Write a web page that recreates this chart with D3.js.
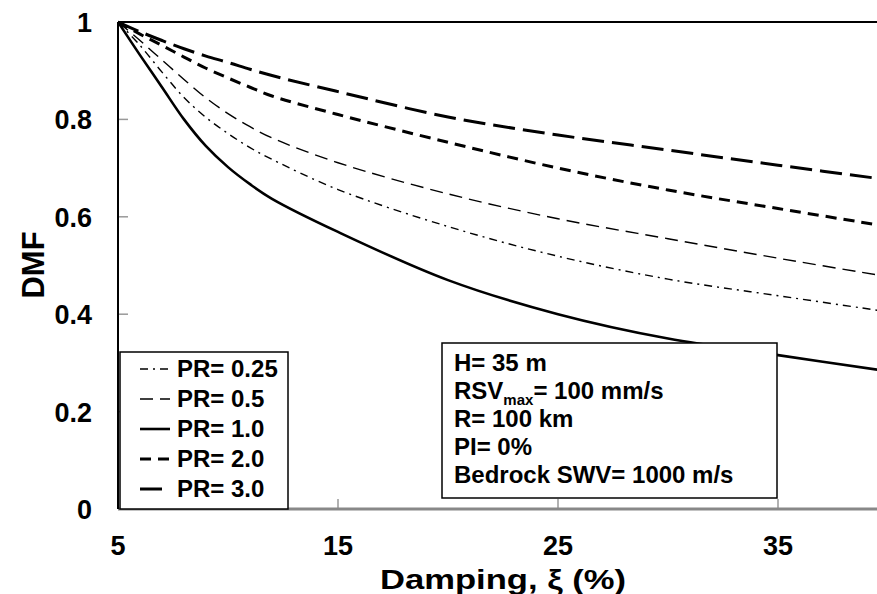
<!DOCTYPE html>
<head>
    <meta charset="utf-8">
    <title>DMF vs Damping</title>
    <style>
    body {
        margin: 0;
        background-color: white;
        font-family: "Liberation Sans", Arial, sans-serif;
    }

    svg text {
        font-weight: bold;
        fill: black;
    }

    .curve {
        fill: none;
        stroke: black;
    }

    .box {
        fill: white;
        stroke: black;
        stroke-width: 1.5px;
    }
    </style>
</head>

<body>
    <svg id="chart" width="877" height="594"></svg>
    <script src="https://cdn.jsdelivr.net/npm/d3@7"></script>
    <script>
    // damping values (%)
    var damping = [5, 6, 7, 8, 9, 10, 11, 12, 15, 20, 25, 30, 35, 40];

    var pr025 = [1, 0.952, 0.897, 0.845, 0.804, 0.771, 0.742, 0.718, 0.656, 0.58, 0.519, 0.472, 0.438, 0.405];
    var pr05 = [1, 0.962, 0.922, 0.882, 0.844, 0.812, 0.785, 0.762, 0.711, 0.647, 0.596, 0.555, 0.515, 0.477];
    var pr10 = [1, 0.932, 0.866, 0.80, 0.745, 0.702, 0.667, 0.637, 0.569, 0.47, 0.40, 0.35, 0.316, 0.283];
    var pr20 = [1, 0.975, 0.952, 0.928, 0.905, 0.885, 0.866, 0.848, 0.81, 0.753, 0.70, 0.655, 0.617, 0.58];
    var pr30 = [1, 0.98, 0.962, 0.945, 0.93, 0.917, 0.903, 0.89, 0.857, 0.805, 0.768, 0.737, 0.706, 0.676];

    var seriesNames = ["PR= 0.25", "PR= 0.5", "PR= 1.0", "PR= 2.0", "PR= 3.0"];
    var xTicks = [5, 15, 25, 35];
    var yTicks = [0, 0.2, 0.4, 0.6, 0.8, 1];
    var notes = ["H= 35 m", "RSV|max|= 100 mm/s", "R= 100 km", "PI= 0%", "Bedrock SWV= 1000 m/s"];

    var styles = [
        { width: 1.4, dash: "8,5,2,5" },
        { width: 1.4, dash: "13,7" },
        { width: 2.6, dash: null },
        { width: 3, dash: "11,7" },
        { width: 3, dash: "22,8" }
    ];

    var allValues = [pr025, pr05, pr10, pr20, pr30];
    var series = seriesNames.map(function(name, i) {
        return {
            name: name,
            style: styles[i],
            values: damping.map(function(d, j) { return { x: d, y: allValues[i][j] }; })
        };
    });

    var svg = d3.select("#chart");

    // plot area (x = 40 falls just past the right edge, as in the original)
    var mLeft = 118, mTop = 22, mBottom = 509;
    var x = d3.scaleLinear().domain([5, 40]).range([mLeft, 888]);
    var y = d3.scaleLinear().domain([0, 1]).range([mBottom, mTop]);

    svg.append("clipPath")
        .attr("id", "clip")
        .append("rect")
        .attr("x", mLeft)
        .attr("y", mTop - 5)
        .attr("width", 877 - mLeft)
        .attr("height", mBottom - mTop + 10);

    // inner gray ticks
    svg.selectAll(".ytick")
        .data(yTicks.slice(1, -1))
        .enter().append("line")
        .attr("x1", mLeft)
        .attr("x2", mLeft + 10)
        .attr("y1", function(d) { return y(d); })
        .attr("y2", function(d) { return y(d); })
        .attr("stroke", "#999")
        .attr("stroke-width", 1.5);

    svg.selectAll(".xtick")
        .data(xTicks.slice(1))
        .enter().append("line")
        .attr("x1", function(d) { return x(d); })
        .attr("x2", function(d) { return x(d); })
        .attr("y1", mBottom)
        .attr("y2", mBottom - 10)
        .attr("stroke", "#999")
        .attr("stroke-width", 1.5);

    // frame
    svg.append("line")
        .attr("x1", mLeft).attr("x2", 877)
        .attr("y1", mTop).attr("y2", mTop)
        .attr("stroke", "black").attr("stroke-width", 2);
    svg.append("line")
        .attr("x1", mLeft).attr("x2", 877)
        .attr("y1", mBottom).attr("y2", mBottom)
        .attr("stroke", "#888").attr("stroke-width", 3);
    svg.append("line")
        .attr("x1", mLeft).attr("x2", mLeft)
        .attr("y1", mTop).attr("y2", mBottom)
        .attr("stroke", "black").attr("stroke-width", 2);

    var line = d3.line()
        .x(function(d) { return x(d.x); })
        .y(function(d) { return y(d.y); })
        .curve(d3.curveCatmullRom.alpha(0.5));

    svg.append("g")
        .attr("clip-path", "url(#clip)")
        .selectAll("path")
        .data(series)
        .enter().append("path")
        .attr("class", "curve")
        .attr("d", function(d) { return line(d.values); })
        .attr("stroke-width", function(d) { return d.style.width; })
        .attr("stroke-dasharray", function(d) { return d.style.dash; });

    // tick labels
    svg.selectAll(".ylabel")
        .data(yTicks)
        .enter().append("text")
        .attr("x", 92)
        .attr("y", function(d) { return y(d) + 10; })
        .attr("text-anchor", "end")
        .style("font-size", "27px")
        .text(function(d) { return d === 0 || d === 1 ? d : d3.format(".1f")(d); });

    svg.selectAll(".xlabel")
        .data(xTicks)
        .enter().append("text")
        .attr("x", function(d) { return x(d); })
        .attr("y", 555)
        .attr("text-anchor", "middle")
        .style("font-size", "27px")
        .text(function(d) { return d; });

    svg.append("text")
        .attr("x", 503)
        .attr("y", 589)
        .attr("text-anchor", "middle")
        .attr("textLength", 246)
        .attr("lengthAdjust", "spacingAndGlyphs")
        .style("font-size", "28px")
        .text("Damping, ξ (%)");

    svg.append("text")
        .attr("transform", "translate(44,265) rotate(-90)")
        .attr("text-anchor", "middle")
        .style("font-size", "31px")
        .text("DMF");

    // legend
    svg.append("rect")
        .attr("class", "box")
        .attr("x", 120).attr("y", 352)
        .attr("width", 168).attr("height", 157);

    var legend = svg.selectAll(".legend")
        .data(series)
        .enter().append("g")
        .attr("transform", function(d, i) { return "translate(0," + (369 + i * 30) + ")"; });

    legend.append("line")
        .attr("x1", 140).attr("x2", 170)
        .attr("y1", 0).attr("y2", 0)
        .attr("stroke", "black")
        .attr("stroke-width", function(d) { return d.style.width; })
        .attr("stroke-dasharray", function(d) { return d.style.dash; });

    legend.append("text")
        .attr("x", 177)
        .attr("y", 8)
        .style("font-size", "24px")
        .text(function(d) { return d.name; });

    // notes box
    svg.append("rect")
        .attr("class", "box")
        .attr("x", 442).attr("y", 343)
        .attr("width", 335).attr("height", 155);

    var note = svg.selectAll(".note")
        .data(notes)
        .enter().append("text")
        .attr("x", 454)
        .attr("y", function(d, i) { return 371 + i * 28; })
        .style("font-size", "24px");

    note.each(function(d) {
        var parts = d.split("|");
        var t = d3.select(this);
        t.append("tspan").text(parts[0]);
        if (parts.length > 1) {
            t.append("tspan").attr("dy", 6).style("font-size", "15px").text(parts[1]);
            t.append("tspan").attr("dy", -6).text(parts[2]);
        }
    });
    </script>
</body>
